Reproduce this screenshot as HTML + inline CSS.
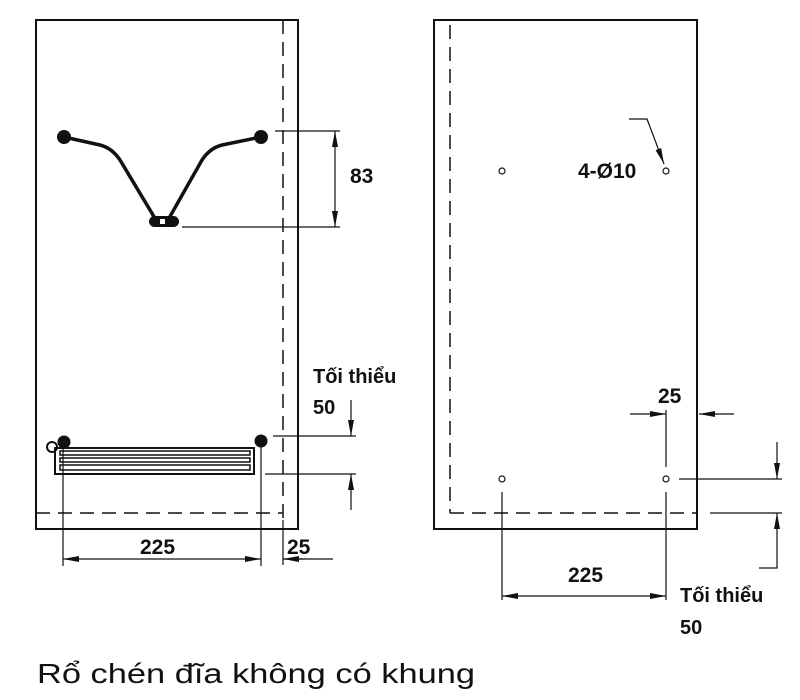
<!DOCTYPE html>
<html><head><meta charset="utf-8"><style>
html,body{margin:0;padding:0;background:#fff;width:800px;height:700px;overflow:hidden}
text{font-family:"Liberation Sans","DejaVu Sans",sans-serif;font-weight:bold;fill:#111}
</style></head><body>
<svg width="800" height="700" viewBox="0 0 800 700" xmlns="http://www.w3.org/2000/svg">
<defs>
<marker id="a" viewBox="0 0 16 8" refX="16" refY="4" markerWidth="16" markerHeight="8" orient="auto-start-reverse" markerUnits="userSpaceOnUse"><path d="M0,1 L16,4 L0,7z" fill="#111"/></marker>
</defs>
<g stroke="#111" fill="none">
<rect x="36" y="20" width="262" height="509" stroke-width="2"/>
<line x1="283" y1="20" x2="283" y2="520" stroke-width="1.5" stroke-dasharray="14,8"/>
<line x1="283" y1="520" x2="283" y2="565" stroke-width="1.2"/>
<line x1="36" y1="513" x2="283" y2="513" stroke-width="1.5" stroke-dasharray="14,8"/>
<path d="M64,137 L100,145 Q112,148 120,160 L156,220 M261,137 L222,145 Q210,148 202,160 L168,220" stroke-width="3.5"/>
<circle cx="64" cy="137" r="7" fill="#111" stroke="none"/>
<circle cx="261" cy="137" r="7" fill="#111" stroke="none"/>
<rect x="149" y="216" width="30" height="11" rx="5.5" fill="#111" stroke="none"/>
<rect x="160" y="219" width="5" height="5" fill="#fff" stroke="none"/>
<line x1="275" y1="131" x2="340" y2="131" stroke-width="1.2"/>
<line x1="182" y1="227" x2="340" y2="227" stroke-width="1.2"/>
<line x1="335" y1="131" x2="335" y2="227" stroke-width="1.2" marker-start="url(#a)" marker-end="url(#a)"/>
<circle cx="52" cy="447" r="5" stroke-width="2" fill="#fff"/>
<circle cx="64" cy="442" r="6.5" fill="#111" stroke="none"/>
<circle cx="261" cy="441" r="6.5" fill="#111" stroke="none"/>
<rect x="55" y="448" width="199" height="26" stroke-width="2"/>
<rect x="60" y="451" width="190" height="4" stroke-width="1.5"/>
<rect x="60" y="458" width="190" height="4" stroke-width="1.5"/>
<rect x="60" y="465" width="190" height="5" stroke-width="1.5"/>
<line x1="273" y1="436" x2="356" y2="436" stroke-width="1.2"/>
<line x1="265" y1="474" x2="356" y2="474" stroke-width="1.2"/>
<line x1="351" y1="400" x2="351" y2="436" stroke-width="1.2" marker-end="url(#a)"/>
<line x1="351" y1="510" x2="351" y2="474" stroke-width="1.2" marker-end="url(#a)"/>
<line x1="63" y1="447" x2="63" y2="566" stroke-width="1.2"/>
<line x1="261" y1="447" x2="261" y2="566" stroke-width="1.2"/>
<line x1="63" y1="559" x2="261" y2="559" stroke-width="1.2" marker-start="url(#a)" marker-end="url(#a)"/>
<line x1="283" y1="559" x2="333" y2="559" stroke-width="1.2"/>
<line x1="303" y1="559" x2="283" y2="559" stroke-width="1.2" marker-end="url(#a)"/>

<rect x="434" y="20" width="263" height="509" stroke-width="2"/>
<line x1="450" y1="25" x2="450" y2="513" stroke-width="1.5" stroke-dasharray="14,8"/>
<line x1="450" y1="513" x2="697" y2="513" stroke-width="1.5" stroke-dasharray="14,8"/>
<line x1="710" y1="513" x2="782" y2="513" stroke-width="1.2"/>
<circle cx="502" cy="171" r="3" stroke-width="1.2"/>
<circle cx="666" cy="171" r="3" stroke-width="1.2"/>
<circle cx="502" cy="479" r="3" stroke-width="1.2"/>
<circle cx="666" cy="479" r="3" stroke-width="1.2"/>
<polyline points="629,119 647,119 664,164" stroke-width="1.2" marker-end="url(#a)"/>
<line x1="666" y1="410" x2="666" y2="467" stroke-width="1.2"/>
<line x1="630" y1="414" x2="666" y2="414" stroke-width="1.2" marker-end="url(#a)"/>
<line x1="734" y1="414" x2="699" y2="414" stroke-width="1.2" marker-end="url(#a)"/>
<line x1="679" y1="479" x2="782" y2="479" stroke-width="1.2"/>
<line x1="777" y1="442" x2="777" y2="479" stroke-width="1.2" marker-end="url(#a)"/>
<polyline points="759,568 777,568 777,513" stroke-width="1.2" marker-end="url(#a)"/>
<line x1="502" y1="492" x2="502" y2="600" stroke-width="1.2"/>
<line x1="666" y1="492" x2="666" y2="600" stroke-width="1.2"/>
<line x1="502" y1="596" x2="666" y2="596" stroke-width="1.2" marker-start="url(#a)" marker-end="url(#a)"/>
</g>
<text x="350" y="183" font-size="21">83</text>
<text x="313" y="383" font-size="20">Tối thiểu</text>
<text x="313" y="414" font-size="20">50</text>
<text x="140" y="554" font-size="21">225</text>
<text x="287" y="554" font-size="21">25</text>
<text x="578" y="178" font-size="21">4-Ø10</text>
<text x="658" y="403" font-size="21">25</text>
<text x="568" y="582" font-size="21">225</text>
<text x="680" y="602" font-size="20">Tối thiểu</text>
<text x="680" y="634" font-size="20">50</text>
<text x="37" y="683" font-size="28" textLength="438" lengthAdjust="spacingAndGlyphs" style="font-weight:normal">Rổ chén đĩa không có khung</text>
</svg>
</body></html>
